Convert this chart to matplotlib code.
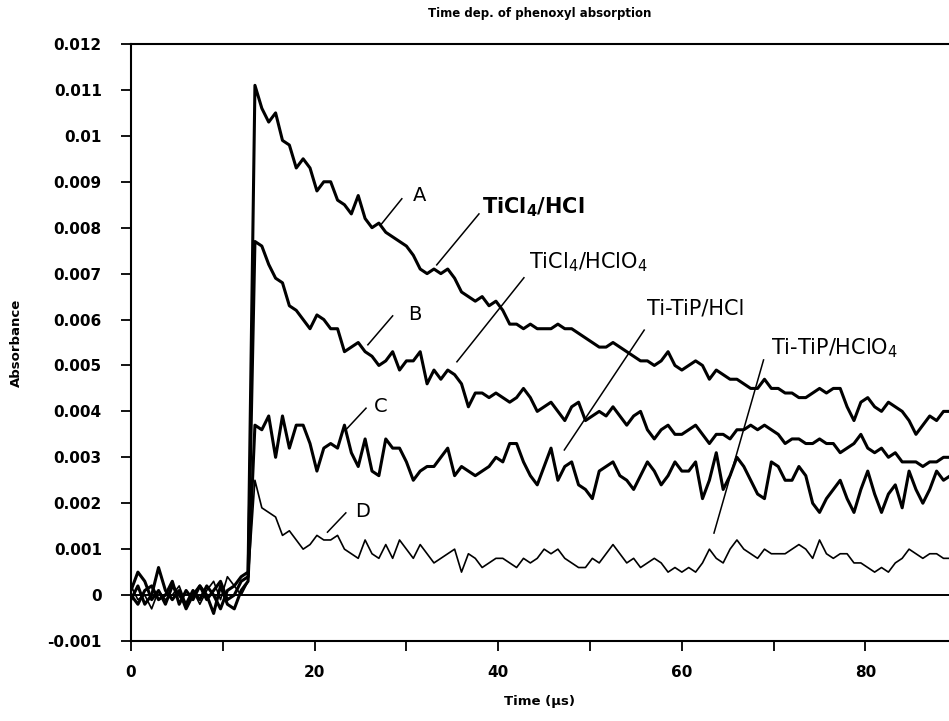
import numpy as np
import matplotlib
matplotlib.use("Agg")
import matplotlib.pyplot as plt

plt.rcParams["mathtext.default"] = "regular"

# sampling grid of the transients (microseconds)
time_us = np.arange(0, 90, 0.75)

# absorbance readings, in units of 1e-3
curve_a = [0.1, 0.5, 0.3, -0.1, 0.1, -0.2, 0.2, 0.0, -0.2, 0.1, -0.1, 0.2, 0.0, -0.3, 0.1, 0.2, 0.4,
           0.5,
           11.1, 10.6, 10.3, 10.5, 9.9, 9.8, 9.3, 9.5, 9.3, 8.8, 9.0, 9.0,
           8.6, 8.5, 8.3, 8.7, 8.2, 8.0, 8.1, 7.9, 7.8, 7.7,
           7.6, 7.4, 7.1, 7.0, 7.1, 7.0, 7.1, 6.9, 6.6, 6.5,
           6.4, 6.5, 6.3, 6.4, 6.2, 5.9, 5.9, 5.8, 5.9, 5.8,
           5.8, 5.8, 5.9, 5.8, 5.8, 5.7, 5.6, 5.5, 5.4, 5.4,
           5.5, 5.4, 5.3, 5.2, 5.1, 5.1, 5.0, 5.1, 5.3, 5.0,
           4.9, 5.0, 5.1, 5.0, 4.7, 4.9, 4.8, 4.7, 4.7, 4.6,
           4.5, 4.5, 4.7, 4.5, 4.5, 4.4, 4.4, 4.3, 4.3, 4.4,
           4.5, 4.4, 4.5, 4.5, 4.1, 3.8, 4.2, 4.3, 4.1, 4.0,
           4.2, 4.1, 4.0, 3.8, 3.5, 3.7, 3.9, 3.8, 4.0, 4.0]

curve_b = [-0.1, 0.2, -0.2, 0.0, 0.6, 0.1, -0.1, 0.1, -0.3, 0.0, 0.2, -0.1, 0.1, 0.3, -0.1, 0.0, 0.3,
           0.4,
           7.7, 7.6, 7.2, 6.9, 6.8, 6.3, 6.2, 6.0, 5.8, 6.1, 6.0, 5.8,
           5.8, 5.3, 5.4, 5.5, 5.3, 5.2, 5.0, 5.1, 5.3, 4.9,
           5.1, 5.1, 5.3, 4.6, 4.9, 4.7, 4.9, 4.8, 4.6, 4.1,
           4.4, 4.4, 4.3, 4.4, 4.3, 4.2, 4.3, 4.5, 4.3, 4.0,
           4.1, 4.2, 4.0, 3.8, 4.1, 4.2, 3.8, 3.9, 4.0, 3.9,
           4.1, 3.9, 3.7, 3.9, 4.0, 3.6, 3.4, 3.6, 3.7, 3.5,
           3.5, 3.6, 3.7, 3.5, 3.3, 3.5, 3.5, 3.4, 3.6, 3.6,
           3.7, 3.6, 3.7, 3.6, 3.5, 3.3, 3.4, 3.4, 3.3, 3.3,
           3.4, 3.3, 3.3, 3.1, 3.2, 3.3, 3.5, 3.2, 3.1, 3.2,
           3.0, 3.1, 2.9, 2.9, 2.9, 2.8, 2.9, 2.9, 3.0, 3.0]

curve_c = [0.0, -0.2, 0.1, 0.2, -0.1, 0.0, 0.3, -0.2, 0.1, -0.1, 0.2, 0.0, -0.4, 0.2, -0.2, -0.3, 0.1,
           0.3,
           3.7, 3.6, 3.9, 3.0, 3.9, 3.2, 3.7, 3.7, 3.3, 2.7, 3.2, 3.3,
           3.2, 3.7, 3.1, 2.8, 3.4, 2.7, 2.6, 3.4, 3.2, 3.2,
           2.9, 2.5, 2.7, 2.8, 2.8, 3.0, 3.2, 2.6, 2.8, 2.7,
           2.6, 2.7, 2.8, 3.0, 2.9, 3.3, 3.3, 2.9, 2.6, 2.4,
           2.8, 3.2, 2.5, 2.8, 2.9, 2.4, 2.3, 2.1, 2.7, 2.8,
           2.9, 2.6, 2.5, 2.3, 2.6, 2.9, 2.7, 2.4, 2.6, 2.9,
           2.7, 2.7, 2.9, 2.1, 2.5, 3.1, 2.3, 2.6, 3.0, 2.8,
           2.5, 2.2, 2.1, 2.9, 2.8, 2.5, 2.5, 2.8, 2.6, 2.0,
           1.8, 2.1, 2.3, 2.5, 2.1, 1.8, 2.3, 2.7, 2.2, 1.8,
           2.2, 2.4, 1.9, 2.7, 2.3, 2.0, 2.3, 2.7, 2.5, 2.6]

curve_d = [0.2, -0.1, 0.0, -0.3, 0.1, -0.1, 0.0, 0.2, -0.2, 0.1, -0.2, 0.1, 0.3, -0.1, 0.4, 0.2, 0.0,
           0.3,
           2.5, 1.9, 1.8, 1.7, 1.3, 1.4, 1.2, 1.0, 1.1, 1.3, 1.2, 1.2,
           1.3, 1.0, 0.9, 0.8, 1.2, 0.9, 0.8, 1.1, 0.8, 1.2,
           1.0, 0.8, 1.1, 0.9, 0.7, 0.8, 0.9, 1.0, 0.5, 0.9,
           0.8, 0.6, 0.7, 0.8, 0.8, 0.7, 0.6, 0.8, 0.7, 0.8,
           1.0, 0.9, 1.0, 0.8, 0.7, 0.6, 0.6, 0.8, 0.7, 0.9,
           1.1, 0.9, 0.7, 0.8, 0.6, 0.7, 0.8, 0.7, 0.5, 0.6,
           0.5, 0.6, 0.5, 0.7, 1.0, 0.8, 0.7, 1.0, 1.2, 1.0,
           0.9, 0.8, 1.0, 0.9, 0.9, 0.9, 1.0, 1.1, 1.0, 0.8,
           1.2, 0.9, 0.8, 0.9, 0.9, 0.7, 0.7, 0.6, 0.5, 0.6,
           0.5, 0.7, 0.8, 1.0, 0.9, 0.8, 0.9, 0.9, 0.8, 0.8]

x_ticks = [0, 10, 20, 30, 40, 50, 60, 70, 80]
x_tick_labels = ["0", "", "20", "", "40", "", "60", "", "80"]
y_ticks = [-0.001, 0, 0.001, 0.002, 0.003, 0.004, 0.005, 0.006,
           0.007, 0.008, 0.009, 0.01, 0.011, 0.012]
y_tick_labels = ["-0.001", "0", "0.001", "0.002", "0.003", "0.004", "0.005", "0.006",
                 "0.007", "0.008", "0.009", "0.01", "0.011", "0.012"]

# curve letters: text (t, A*1e3) and leader (t0, a0, t1, a1)
letter_labels = [
    ("A", (30.7, 8.71), (29.5, 8.63, 27.2, 8.06)),
    ("B", (30.2, 6.10), (28.5, 6.08, 25.8, 5.45)),
    ("C", (26.5, 4.10), (25.6, 4.07, 23.5, 3.62)),
    ("D", (24.4, 1.83), (23.4, 1.79, 21.4, 1.37)),
]
system_labels = [
    ("TiCl$_4$/HCl", "bold", (38.2, 8.45), (37.9, 8.30, 33.3, 7.19)),
    ("TiCl$_4$/HClO$_4$", "normal", (43.4, 7.25), (42.8, 6.91, 35.5, 5.08)),
    ("Ti-TiP/HCl", "normal", (56.2, 6.25), (55.9, 5.77, 47.2, 3.16)),
    ("Ti-TiP/HClO$_4$", "normal", (69.7, 5.38), (68.9, 5.12, 63.5, 1.35)),
]

fig = plt.figure(figsize=(9.49, 7.21), dpi=100)
ax = fig.add_axes([131 / 949, 80 / 721, 818 / 949, 597 / 721])

for vals, lw in [(curve_a, 2.2), (curve_b, 2.2), (curve_c, 2.2), (curve_d, 1.2)]:
    ax.plot(time_us, np.array(vals) * 1e-3, color="black", lw=lw,
            solid_joinstyle="round", solid_capstyle="round")

ax.axhline(0, color="black", lw=1.4)

for txt, (tx, ty), (x0, y0, x1, y1) in letter_labels:
    ax.plot([x0, x1], [y0 * 1e-3, y1 * 1e-3], color="black", lw=1.1)
    ax.text(tx, ty * 1e-3, txt, fontsize=14, ha="left", va="center")

for txt, wt, (tx, ty), (x0, y0, x1, y1) in system_labels:
    ax.plot([x0, x1], [y0 * 1e-3, y1 * 1e-3], color="black", lw=1.1)
    ax.text(tx, ty * 1e-3, txt, fontsize=15, fontweight=wt, ha="left", va="center")

ax.set_xlim(0, 89.1)
ax.set_ylim(-0.001, 0.012)
ax.set_xticks(x_ticks)
ax.set_xticklabels(x_tick_labels, fontsize=11, fontweight="bold")
ax.set_yticks(y_ticks)
ax.set_yticklabels(y_tick_labels, fontsize=11, fontweight="bold")
ax.tick_params(direction="out", length=7, width=1.3, pad=10)
ax.tick_params(axis="y", pad=14)

for side in ("left", "bottom", "top"):
    ax.spines[side].set_linewidth(1.5)
ax.spines["right"].set_visible(False)

ax.set_xlabel("Time (\u03bcs)", fontsize=9.5, fontweight="bold")
ax.xaxis.set_label_coords(0.5, -0.09)
ax.set_ylabel("Absorbance", fontsize=9.5, fontweight="bold")
ax.yaxis.set_label_coords(-0.132, 0.5)

fig.text(540 / 949, 1 - 14 / 721, "Time dep. of phenoxyl absorption",
         fontsize=8.5, fontweight="bold", ha="center", va="center")

fig.savefig("out.png", dpi=100)
plt.close(fig)
